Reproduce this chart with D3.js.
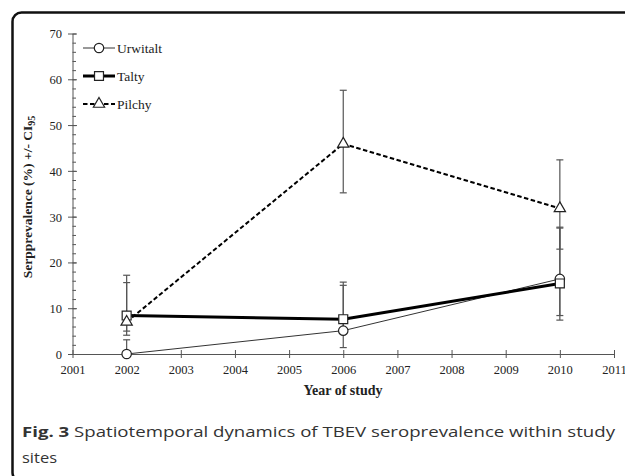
<!DOCTYPE html>
<html>
<head>
<meta charset="utf-8">
<script src="https://cdn.jsdelivr.net/npm/d3@7"></script>
<style>
  body { margin: 0; background: #fff; }
  svg { display: block; }
  .axis text { font-family: "Liberation Serif", "Times New Roman", serif; font-size: 12.5px; fill: #222; }
  .axis path, .axis line { stroke: #555; }
</style>
</head>
<body>
<div id="chart"></div>
<script>
// Data
const years = [2002, 2006, 2010];
const series = ["Urwitalt", "Talty", "Pilchy"];
const urwitalt = [0, 5.1, 16.4];
const urwitaltLow = [0, 1.4, 8.4];
const urwitaltHigh = [3.1, 15.0, 27.7];
const talty = [8.4, 7.6, 15.4];
const taltyLow = [4.1, 4.9, 7.4];
const taltyHigh = [17.2, 15.7, 27.5];
const pilchy = [7.0, 45.9, 31.8];
const pilchyLow = [5.0, 35.2, 22.9];
const pilchyHigh = [15.6, 57.6, 42.4];
const yTicks = [0, 10, 20, 30, 40, 50, 60, 70];
const xTicks = [2001, 2002, 2003, 2004, 2005, 2006, 2007, 2008, 2009, 2010, 2011];

let width = 625;
let height = 476;

const svg = d3.select("#chart")
  .append("svg")
  .attr("width", width)
  .attr("height", height);

// Rounded frame round the figure (open to the right and bottom edges)
svg.append("rect")
  .attr("x", 12.5)
  .attr("y", 12.5)
  .attr("width", 660)
  .attr("height", 469)
  .attr("rx", 9)
  .attr("fill", "none")
  .attr("stroke", "#111")
  .attr("stroke-width", 2.5);

const x = d3.scaleLinear().domain([2001, 2011]).range([72.5, 614]);
const y = d3.scaleLinear().domain([0, 70]).range([354, 33.5]);

// Minor Y ticks (every 2 units, inside)
svg.append("g")
  .attr("class", "axis")
  .attr("transform", "translate(72.5,0)")
  .call(d3.axisLeft(y).ticks(35).tickSize(-3.5).tickFormat(""))
  .call(g => g.select(".domain").remove());

// Major Y axis
svg.append("g")
  .attr("class", "axis")
  .attr("transform", "translate(72.5,0)")
  .call(d3.axisLeft(y).tickValues(yTicks).tickSize(4.5).tickSizeOuter(0).tickPadding(6))
  .call(g => g.selectAll(".tick line").attr("x1", 4.5))
  .call(g => g.selectAll(".tick text").attr("dy", "0.35em"));

// X axis
svg.append("g")
  .attr("class", "axis")
  .attr("transform", `translate(0,${y(0)})`)
  .call(d3.axisBottom(x).tickValues(xTicks).tickFormat(d3.format("d")).tickSize(4).tickSizeOuter(0).tickPadding(7))
  .call(g => g.selectAll(".tick line").attr("y1", -4));

// Axis titles
svg.append("text")
  .attr("x", 343)
  .attr("y", 395)
  .attr("text-anchor", "middle")
  .attr("font-family", "Liberation Serif, serif")
  .attr("font-weight", "bold")
  .attr("font-size", 14)
  .attr("fill", "#222")
  .text("Year of study");

const yLabel = svg.append("text")
  .attr("transform", "translate(32,197) rotate(-90)")
  .attr("text-anchor", "middle")
  .attr("font-family", "Liberation Serif, serif")
  .attr("font-weight", "bold")
  .attr("font-size", 13.5)
  .attr("fill", "#222");
yLabel.append("tspan").text("Serpprevalence (%) +/- CI");
yLabel.append("tspan").attr("font-size", 10).attr("dy", 3).text("95");

const groups = [
  { name: series[0], values: urwitalt, low: urwitaltLow, high: urwitaltHigh, width: 1, dash: null, color: "#333", marker: "circle" },
  { name: series[1], values: talty, low: taltyLow, high: taltyHigh, width: 3, dash: null, color: "#000", marker: "square" },
  { name: series[2], values: pilchy, low: pilchyLow, high: pilchyHigh, width: 2, dash: "4.5,2.5", color: "#000", marker: "triangle" }
];

// Error bars
groups.forEach(s => {
  const g = svg.append("g").attr("stroke", "#555").attr("stroke-width", 1.2);
  years.forEach((yr, i) => {
    g.append("line")
      .attr("x1", x(yr)).attr("x2", x(yr))
      .attr("y1", y(s.low[i])).attr("y2", y(s.high[i]));
    [s.low[i], s.high[i]].forEach(v => {
      g.append("line")
        .attr("x1", x(yr) - 3.5).attr("x2", x(yr) + 3.5)
        .attr("y1", y(v)).attr("y2", y(v));
    });
  });
});

const line = d3.line()
  .x((d, i) => x(years[i]))
  .y(d => y(d));

// Series lines
groups.forEach(s => {
  svg.append("path")
    .datum(s.values)
    .attr("fill", "none")
    .attr("stroke", s.color)
    .attr("stroke-width", s.width)
    .attr("stroke-dasharray", s.dash)
    .attr("d", line);
});

const symbolType = { circle: d3.symbolCircle, square: d3.symbolSquare, triangle: d3.symbolTriangle };
const symbolSize = { circle: 70, square: 80, triangle: 55 };

function drawMarker(sel, s, cx, cy) {
  sel.append("path")
    .attr("d", d3.symbol().type(symbolType[s.marker]).size(symbolSize[s.marker])())
    .attr("transform", `translate(${cx},${cy})`)
    .attr("fill", "#fff")
    .attr("stroke", "#222")
    .attr("stroke-width", 1.2);
}

// Markers
groups.forEach(s => {
  s.values.forEach((v, i) => drawMarker(svg, s, x(years[i]), y(v)));
});

// Legend
groups.forEach((s, i) => {
  const ly = 48 + i * 28;
  svg.append("line")
    .attr("x1", 83).attr("x2", 115)
    .attr("y1", ly).attr("y2", ly)
    .attr("stroke", s.color)
    .attr("stroke-width", s.width)
    .attr("stroke-dasharray", s.dash);
  drawMarker(svg, s, 99, ly);
  svg.append("text")
    .attr("x", 117)
    .attr("y", ly + 4.5)
    .attr("font-family", "Liberation Serif, serif")
    .attr("font-size", 13.5)
    .attr("fill", "#222")
    .text(s.name);
});

// Caption
const cap = svg.append("text")
  .attr("x", 22)
  .attr("y", 437)
  .attr("font-family", "Open Sans, sans-serif")
  .attr("font-size", 15)
  .attr("fill", "#333")
  .attr("textLength", 593)
  .attr("lengthAdjust", "spacingAndGlyphs");
cap.append("tspan").attr("font-weight", "bold").text("Fig. 3");
cap.append("tspan").text(" Spatiotemporal dynamics of TBEV seroprevalence within study");
svg.append("text")
  .attr("x", 22)
  .attr("y", 463)
  .attr("font-family", "Open Sans, sans-serif")
  .attr("font-size", 15)
  .attr("fill", "#333")
  .attr("textLength", 35)
  .attr("lengthAdjust", "spacingAndGlyphs")
  .text("sites");
</script>
</body>
</html>
